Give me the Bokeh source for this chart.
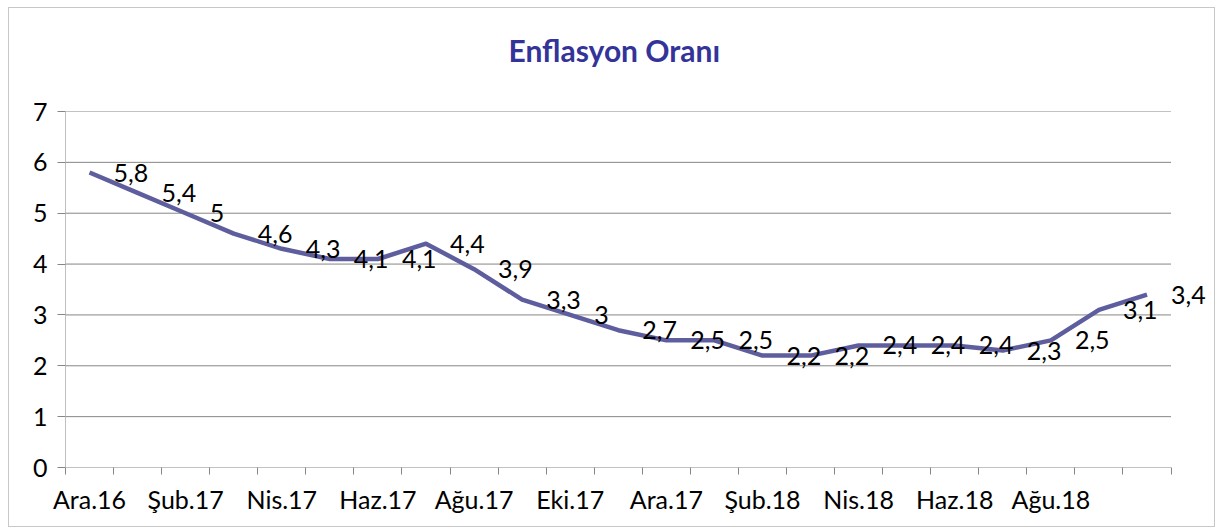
from bokeh.plotting import figure
from bokeh.models import FixedTicker, ColumnDataSource, Range1d, LabelSet, Title
from bokeh.core.properties import value
from bokeh.embed import file_html
from bokeh.resources import INLINE

months = ["Ara.16", "Oca.17", "Şub.17", "Mar.17", "Nis.17", "May.17", "Haz.17",
          "Tem.17", "Ağu.17", "Eyl.17", "Eki.17", "Kas.17", "Ara.17", "Oca.18",
          "Şub.18", "Mar.18", "Nis.18", "May.18", "Haz.18", "Tem.18", "Ağu.18",
          "Eyl.18", "Eki.18"]
rates = [5.8, 5.4, 5.0, 4.6, 4.3, 4.1, 4.1, 4.4, 3.9, 3.3, 3.0, 2.7, 2.5, 2.5,
         2.2, 2.2, 2.4, 2.4, 2.4, 2.3, 2.5, 3.1, 3.4]
shown_labels = ["Ara.16", "Şub.17", "Nis.17", "Haz.17", "Ağu.17", "Eki.17",
                "Ara.17", "Şub.18", "Nis.18", "Haz.18", "Ağu.18"]
y_ticks = [0, 1, 2, 3, 4, 5, 6, 7]
title_text = "Enflasyon Oranı"

n = len(months)
xs = [i + 0.5 for i in range(n)]
texts = [f"{v:g}".replace(".", ",") for v in rates]
src = ColumnDataSource(dict(x=xs, y=rates, lbl=texts))

FONT = "Lato"
GRID = "#868686"
X_PAD = 0.8  # extra room right of the last category so the last label is not clipped

p = figure(width=1218, height=529, output_backend="svg", toolbar_location=None,
           x_range=Range1d(0, n + X_PAD), y_range=Range1d(0, 7),
           min_border_left=65, min_border_right=9, min_border_top=111,
           min_border_bottom=62)

# main title (outermost panel)
p.title.text = title_text
p.title.align = "left"
p.title.offset = 443
p.title.text_font = FONT
p.title.text_font_style = "bold"
p.title.text_font_size = "30px"
p.title.text_color = "#333399"
p.title.standoff = 56

# spacer between title and plot area
p.add_layout(Title(text=" ", text_font_size="10px", standoff=3), "above")

# light outer border of the chart area
p.border_fill_color = None
p.styles = {"background-color": "white",
            "box-shadow": ("inset 8px 7px 0 0 #FFFFFF, inset -3px -2px 0 0 #FFFFFF, "
                           "inset 9px 8px 0 0 #C8C8C8, inset -4px -3px 0 0 #C8C8C8")}
p.outline_line_color = None

# horizontal gridlines only across the category area
p.xgrid.grid_line_color = None
p.ygrid.grid_line_color = None
p.segment(x0=0, x1=n, y0=y_ticks, y1=y_ticks, line_color=GRID, line_width=1)

p.line("x", "y", source=src, line_color="#5E5E9E", line_width=4.5, line_join="round")

labels = LabelSet(x="x", y="y", text="lbl", source=src, x_offset=24,
                  text_align="left", text_baseline="middle",
                  text_font=value(FONT), text_font_size=value("25px"),
                  text_color="#000000")
p.add_layout(labels)

# x axis: labels at month centres, tick marks at boundaries
overrides = {}
for i, m in enumerate(months):
    overrides[xs[i]] = m if m in shown_labels else ""
p.xaxis.ticker = FixedTicker(ticks=xs, minor_ticks=list(range(n + 1)))
p.xaxis.major_label_overrides = overrides
p.xaxis.major_tick_line_color = None
p.xaxis.minor_tick_line_color = GRID
p.xaxis.minor_tick_out = 7
p.xaxis.minor_tick_in = 0
p.xaxis.axis_line_color = None
p.xaxis.major_label_text_font = FONT
p.xaxis.major_label_text_font_size = "25px"
p.xaxis.major_label_text_color = "#000000"
p.xaxis.major_label_standoff = 9

p.yaxis.ticker = FixedTicker(ticks=y_ticks)
p.yaxis.minor_tick_line_color = None
p.yaxis.major_tick_line_color = GRID
p.yaxis.major_tick_out = 8
p.yaxis.major_tick_in = 0
p.yaxis.axis_line_color = "#BFBFBF"
p.yaxis.major_label_text_font = FONT
p.yaxis.major_label_text_font_size = "25px"
p.yaxis.major_label_text_color = "#000000"
p.yaxis.major_label_standoff = 10

open("out.html", "w").write(file_html(p, INLINE))
